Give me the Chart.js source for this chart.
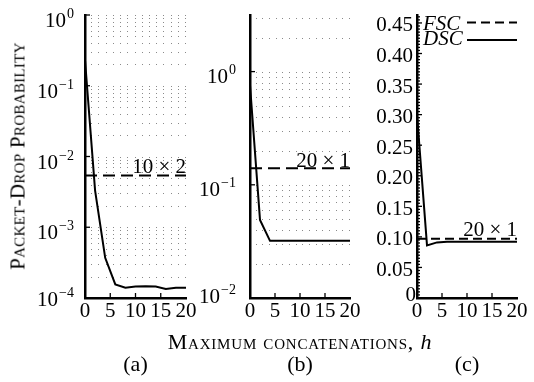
<!DOCTYPE html>
<html><head><meta charset="utf-8">
<script src="https://cdn.jsdelivr.net/npm/chart.js@4.4.1/dist/chart.umd.min.js"></script>
<style>
html,body{margin:0;padding:0;background:#fff;}
#wrap{position:relative;width:534px;height:382px;overflow:hidden;font-family:"Liberation Serif","Times New Roman",serif;color:#000;}
canvas{position:absolute;top:0;}
.lbl{position:absolute;white-space:nowrap;line-height:1;}
#ytitle{left:18px;top:156px;font-size:21px;letter-spacing:0.3px;font-variant:small-caps;transform:translate(-50%,-50%) rotate(-90deg);}
#xtitle{left:300px;top:342px;font-size:22px;letter-spacing:0.8px;font-variant:small-caps;transform:translate(-50%,-50%);}
.sub{top:364px;font-size:22px;transform:translate(-50%,-50%);}
</style></head><body>
<div id="wrap">
<canvas id="ca" width="200" height="330" style="left:0px"></canvas>
<canvas id="cb" width="174" height="330" style="left:190px"></canvas>
<canvas id="cc" width="180" height="330" style="left:354px"></canvas>
<div class="lbl" id="ytitle">Packet-Drop Probability</div>
<div class="lbl" id="xtitle">Maximum concatenations, <i style="font-variant:normal">h</i></div>
<div class="lbl sub" style="left:135.5px">(a)</div>
<div class="lbl sub" style="left:300px">(b)</div>
<div class="lbl sub" style="left:467px">(c)</div>
</div>
<script>
// ---- data ----
const hValues = [0, 2, 4, 6, 8, 10, 12, 14, 16, 18, 20];
const dscA = [0.23, 3.3e-3, 3.7e-4, 1.56e-4, 1.40e-4, 1.45e-4, 1.47e-4, 1.45e-4, 1.34e-4, 1.40e-4, 1.40e-4];
const fscA = 5.4e-3;
const dscB = [0.76, 0.049, 0.032, 0.032, 0.032, 0.032, 0.032, 0.032, 0.032, 0.032, 0.032];
const fscB = 0.14;
const dscC = [0.30, 0.086, 0.091, 0.092, 0.092, 0.092, 0.092, 0.092, 0.092, 0.092, 0.092];
const fscC = 0.097;
const xTickValues = [0, 5, 10, 15, 20];
const majorA = [1e-4, 1e-3, 1e-2, 1e-1, 1];
const expA = ['\u22124', '\u22123', '\u22122', '\u22121', '0'];
const majorB = [1e-2, 1e-1, 1];
const expB = ['\u22122', '\u22121', '0'];
const minorMult = [1, 2, 3, 4, 5, 6, 7, 8, 9];
const ticksC = [0, 0.05, 0.10, 0.15, 0.20, 0.25, 0.30, 0.35, 0.40, 0.45];
const ticksCLabels = ['0', '0.05', '0.10', '0.15', '0.20', '0.25', '0.30', '0.35', '0.40', '0.45'];
const noteA = '10 \u00d7 2', noteB = '20 \u00d7 1', noteC = '20 \u00d7 1';
const legendLabels = ['FSC', 'DSC'];

const FONT = "'Liberation Serif', serif";
const gridOf = (majors) => majors.flatMap(m => minorMult.map(k => +(m * k).toPrecision(3)));

const decor = {
  id: 'decor',
  beforeDatasetsDraw(chart, args, o) {
    const {ctx, chartArea: a} = chart; const y = chart.scales.y;
    if (!o.grid) return;
    ctx.save(); ctx.fillStyle = '#8a8a8a';
    for (const v of o.grid) {
      const py = Math.round(y.getPixelForValue(v));
      if (py < a.top - 1 || py > a.bottom - 2) continue;
      for (let k = 1; k <= o.dotCols; k++) {
        const px = Math.round(a.left + k * (a.right - a.left) / o.dotCols) - 1;
        ctx.fillRect(px, py, 1, 1);
      }
    }
    ctx.restore();
  },
  afterDraw(chart, args, o) {
    const {ctx, chartArea: a} = chart; const x = chart.scales.x, y = chart.scales.y;
    ctx.save();
    ctx.strokeStyle = '#000'; ctx.fillStyle = '#000'; ctx.lineWidth = 1.3;
    const line = (x1, y1, x2, y2) => { ctx.beginPath(); ctx.moveTo(x1, y1); ctx.lineTo(x2, y2); ctx.stroke(); };
    for (const v of [5, 10, 15]) { const px = x.getPixelForValue(v); line(px, a.bottom, px, a.bottom - 5); }
    for (const m of o.yMarks) { const py = y.getPixelForValue(m.v); line(a.left, py, a.left + m.len, py); }
    ctx.textBaseline = 'alphabetic';
    if (o.logLabels) {
      o.logLabels.forEach((v, i) => {
        const sup = o.exps[i];
        const py = y.getPixelForValue(v);
        const base = py + (i === 0 ? o.dyLow : o.dy);
        ctx.font = '21px ' + FONT; const w10 = ctx.measureText('10').width;
        ctx.font = '14px ' + FONT; const ws = ctx.measureText(sup).width;
        const x0 = a.left - o.gap - ws - w10 - 1;
        ctx.textAlign = 'left';
        ctx.font = '21px ' + FONT; ctx.fillText('10', x0, base);
        ctx.font = '14px ' + FONT; ctx.fillText(sup, x0 + w10 + 1, base - 9);
      });
    }
    if (o.linLabels) {
      ctx.font = '21px ' + FONT; ctx.textAlign = 'right'; ctx.textBaseline = 'middle';
      o.linLabels.forEach((v, i) => {
        const py = y.getPixelForValue(v);
        if (i === 0) ctx.fillText(o.linText[i], a.left - 1, py - 3);
        else ctx.fillText(o.linText[i], a.left - 4, py + 3);
      });
      ctx.textBaseline = 'alphabetic';
    }
    ctx.font = '21px ' + FONT; ctx.textAlign = 'right';
    ctx.fillText(o.note, a.right, y.getPixelForValue(o.noteValue) - o.noteGap);
    if (o.legend) {
      ctx.font = 'italic 21px ' + FONT; ctx.textAlign = 'left';
      ctx.fillText(legendLabels[0], a.left + 6, 29.5);
      ctx.fillText(legendLabels[1], a.left + 6, 45);
      ctx.lineWidth = 2;
      ctx.setLineDash([9, 5]); line(a.right - 50, 22.5, a.right, 22.5);
      ctx.setLineDash([]); line(a.right - 50, 40, a.right, 40);
    }
    ctx.restore();
  }
};

function xScale() {
  return {
    type: 'linear', min: 0, max: 20,
    afterBuildTicks: s => { s.ticks = xTickValues.map(v => ({value: v})); },
    ticks: {font: {family: FONT, size: 21}, color: '#000', padding: 1, maxRotation: 0, autoSkip: false},
    grid: {display: false, drawTicks: false},
    border: {display: true, color: '#000', width: 2.5},
    afterFit: s => { s.height = 32; s.paddingLeft = 0; s.paddingRight = 0; }
  };
}

function makeChart(id, dsc, fsc, dash, yScale, rightPad, decorOpts) {
  return new Chart(document.getElementById(id), {
    type: 'line',
    data: {datasets: [
      {label: legendLabels[1], data: hValues.map((h, i) => ({x: h, y: dsc[i]})), borderColor: '#000', borderWidth: 2, pointRadius: 0, fill: false, tension: 0},
      {label: legendLabels[0], data: [{x: 0, y: fsc}, {x: 20, y: fsc}], borderColor: '#000', borderWidth: 2, borderDash: dash, pointRadius: 0, fill: false}
    ]},
    options: {
      responsive: false, animation: false, devicePixelRatio: 1,
      layout: {padding: {top: 15, right: rightPad, left: 0, bottom: 0}},
      plugins: {legend: {display: false}, tooltip: {enabled: false}, decor: decorOpts},
      scales: {x: xScale(), y: yScale}
    },
    plugins: [decor]
  });
}

function logY(min, max, majors, width) {
  return {
    type: 'logarithmic', min: min, max: max,
    afterBuildTicks: s => { s.ticks = majors.map(v => ({value: v})); },
    ticks: {display: false}, grid: {display: false},
    border: {display: true, color: '#000', width: 2.5},
    afterFit: s => { s.width = width; s.paddingTop = 0; s.paddingBottom = 0; }
  };
}

const charts = [];
charts.push(makeChart('ca', dscA, fscA, [12, 6], logY(1e-4, 1, majorA, 85), 14, {
  grid: gridOf(majorA), dotCols: 14,
  yMarks: majorA.map(v => ({v: v, len: 5})),
  logLabels: majorA, exps: expA, gap: 11, dy: 12, dyLow: 8,
  note: noteA, noteValue: fscA, noteGap: 2
}));

charts.push(makeChart('cb', dscB, fscB, [12, 6], logY(1e-2, Math.sqrt(10), majorB, 60), 14, {
  grid: gridOf(majorB), dotCols: 15,
  yMarks: majorB.map(v => ({v: v, len: 5})),
  logLabels: majorB, exps: expB, gap: 14, dy: 11, dyLow: 5,
  note: noteB, noteValue: fscB, noteGap: 1
}));

const minorC = [];
for (let i = 0; i <= 92; i++) minorC.push({v: i * 0.005, len: (i % 10 === 0) ? 5 : 3});
charts.push(makeChart('cc', dscC, fscC, [9, 5], {
  type: 'linear', min: 0, max: 0.463,
  afterBuildTicks: s => { s.ticks = ticksC.map(v => ({value: v})); },
  ticks: {display: false}, grid: {display: false},
  border: {display: true, color: '#000', width: 2.5},
  afterFit: s => { s.width = 63; s.paddingTop = 0; s.paddingBottom = 0; }
}, 17, {
  yMarks: minorC, linLabels: ticksC, linText: ticksCLabels,
  note: noteC, noteValue: fscC, noteGap: 3, legend: true
}));

if (document.fonts && document.fonts.load) {
  Promise.all([document.fonts.load("21px 'Liberation Serif'"), document.fonts.load("italic 21px 'Liberation Serif'")])
    .then(() => charts.forEach(c => c.update()));
}
</script>
</body></html>
